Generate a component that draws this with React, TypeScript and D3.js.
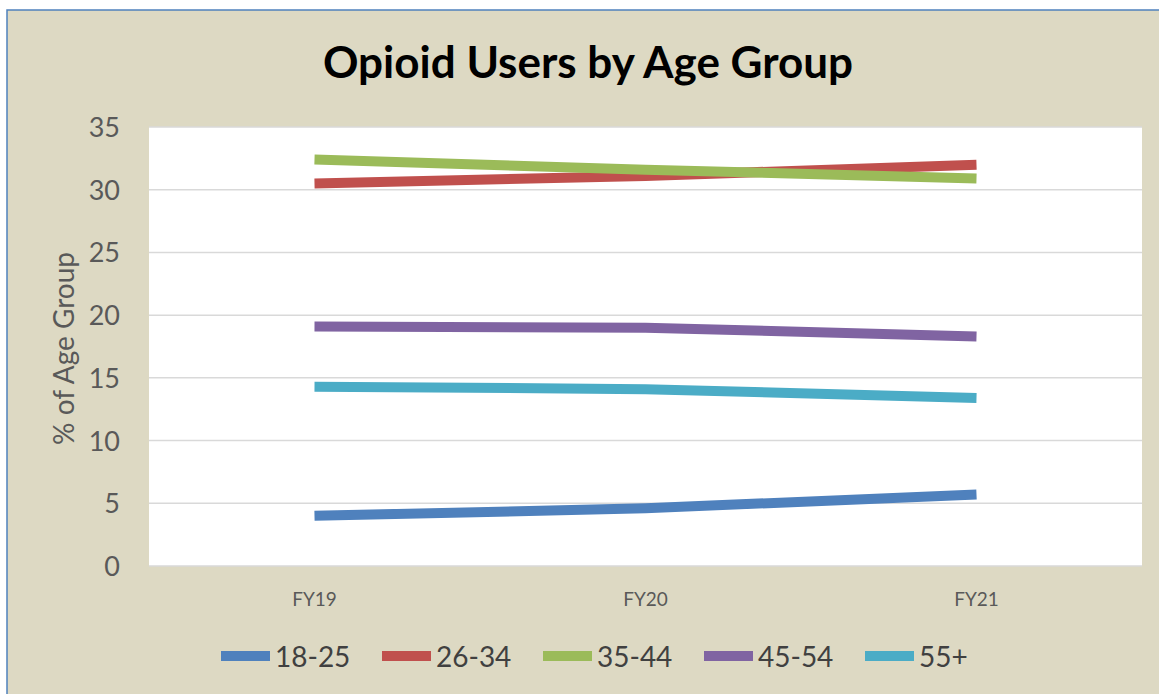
import React from "react";
import * as d3 from "d3";

const categories = ["FY19", "FY20", "FY21"];
const seriesNames = ["18-25", "26-34", "35-44", "45-54", "55+"];
const seriesColors = ["#4F81BD", "#C0504D", "#9BBB59", "#8064A2", "#4BACC6"];
const v1825 = [4.0, 4.6, 5.7];
const v2634 = [30.5, 31.1, 32.0];
const v3544 = [32.4, 31.6, 30.9];
const v4554 = [19.1, 19.0, 18.3];
const v55 = [14.3, 14.1, 13.4];
const yTicks = [0, 5, 10, 15, 20, 25, 30, 35];

const seriesValues = [v1825, v2634, v3544, v4554, v55];

const W = 1159;
const H = 694;
const plot = { left: 149, right: 1142, top: 127, bottom: 566 };
const FONT = "Lato, 'Open Sans', sans-serif";

export default function App() {
  const x = d3
    .scaleBand<string>()
    .domain(categories)
    .range([plot.left, plot.right]);
  const y = d3.scaleLinear().domain([0, 35]).range([plot.bottom, plot.top]);
  const line = d3
    .line<number>()
    .x((_, i) => (x(categories[i]) as number) + x.bandwidth() / 2)
    .y((d) => y(d));

  const legendX = [221, 382, 543, 704, 865];

  return (
    <div style={{ position: "absolute", left: 0, top: 0 }}>
      <svg width={W} height={H} style={{ display: "block" }}>
        <rect x={0} y={0} width={W} height={H} fill="#FFFFFF" />
        <rect x={7} y={10} width={W} height={H} fill="#DDD9C3" stroke="#4F81BD" strokeWidth={1.5} />
        <text
          x={588}
          y={78}
          textAnchor="middle"
          fontFamily={FONT}
          fontWeight="bold"
          fontSize={44}
          fill="#000"
        >
          Opioid Users by Age Group
        </text>
        <rect
          x={plot.left}
          y={plot.top}
          width={plot.right - plot.left}
          height={plot.bottom - plot.top}
          fill="#FFFFFF"
        />
        {yTicks.map((t) => (
          <g key={t}>
            <line
              x1={plot.left}
              x2={plot.right}
              y1={y(t)}
              y2={y(t)}
              stroke="#D9D9D9"
              strokeWidth={1.5}
            />
            <text
              x={120}
              y={y(t) + 10}
              textAnchor="end"
              fontFamily={FONT}
              fontSize={27}
              fill="#595959"
            >
              {t}
            </text>
          </g>
        ))}
        <text
          transform={`translate(74, ${(plot.top + plot.bottom) / 2 + 2}) rotate(-90)`}
          textAnchor="middle"
          fontFamily={FONT}
          fontSize={28}
          fill="#595959"
        >
          % of Age Group
        </text>
        {categories.map((c) => (
          <text
            key={c}
            x={(x(c) as number) + x.bandwidth() / 2}
            y={606}
            textAnchor="middle"
            fontFamily={FONT}
            fontSize={19}
            fill="#595959"
          >
            {c}
          </text>
        ))}
        {seriesValues.map((vals, i) => (
          <path
            key={seriesNames[i]}
            d={line(vals) as string}
            fill="none"
            stroke={seriesColors[i]}
            strokeWidth={10}
            strokeLinejoin="round"
          />
        ))}
        {seriesNames.map((n, i) => (
          <g key={n}>
            <line
              x1={legendX[i]}
              x2={legendX[i] + 49}
              y1={656}
              y2={656}
              stroke={seriesColors[i]}
              strokeWidth={10}
            />
            <text
              x={legendX[i] + 54}
              y={667}
              fontFamily={FONT}
              fontSize={28}
              fill="#404040"
            >
              {n}
            </text>
          </g>
        ))}
      </svg>
    </div>
  );
}
